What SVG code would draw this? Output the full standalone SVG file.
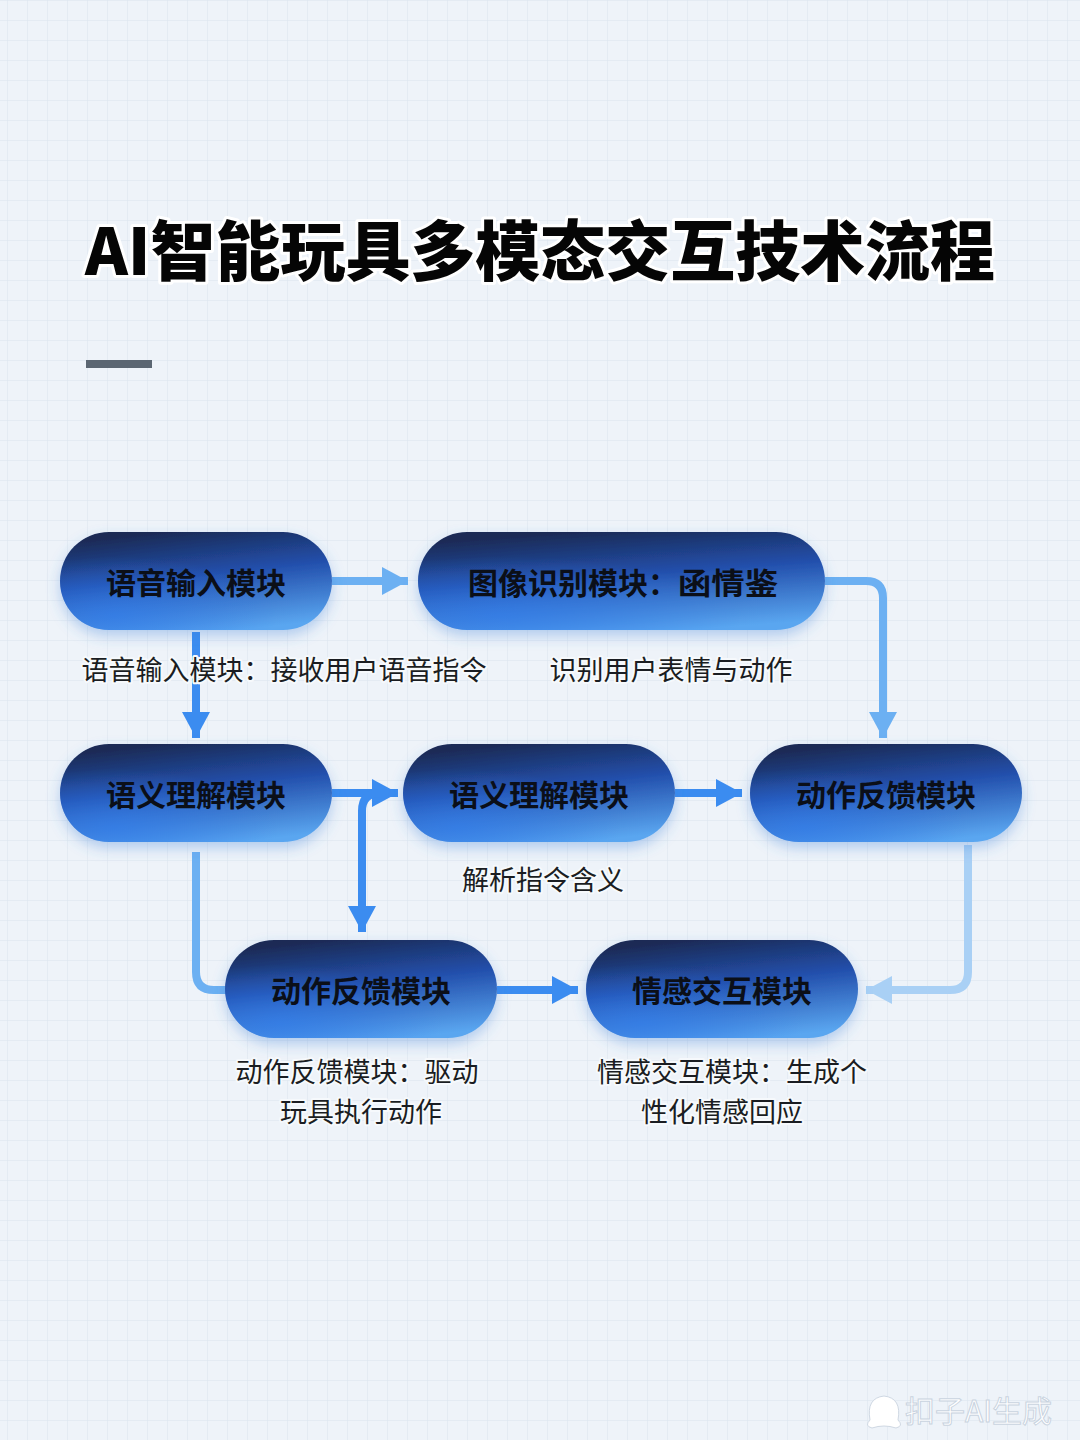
<svg xmlns="http://www.w3.org/2000/svg" width="1080" height="1440" viewBox="0 0 1080 1440">
<defs>
<style>
.node-text{font-family:"Noto Sans CJK SC","Noto Sans",sans-serif;font-weight:700;font-size:30px;fill:#0b0f18;text-anchor:middle;dominant-baseline:central}
.label{font-family:"Noto Sans CJK SC","Noto Sans",sans-serif;font-weight:400;font-size:27px;fill:#1a1d22;text-anchor:middle;paint-order:stroke;stroke:#f6f9fc;stroke-width:4px;stroke-linejoin:round}
.title{font-family:"Noto Sans CJK SC","Noto Sans",sans-serif;font-weight:900;font-size:65px;fill:#050505;paint-order:stroke;stroke:#ffffff;stroke-width:6px;stroke-linejoin:round}
.conn{fill:none;stroke-width:8;stroke-linecap:butt;stroke-linejoin:round}
.c-main{stroke:#3b8cf0}
.c-light{stroke:#6cb0f2}
.c-pale{stroke:#a9d0f5}
.grid{stroke:#d9e3ee;stroke-width:1}
</style>
<linearGradient id="pill" x1="0.35" y1="0" x2="0.65" y2="1">
<stop offset="0" stop-color="#1a2a55"/>
<stop offset="0.45" stop-color="#2350ad"/>
<stop offset="1" stop-color="#5aa6f0"/>
</linearGradient>
<radialGradient id="pillShade" cx="0.2" cy="0.85" r="0.6">
<stop offset="0" stop-color="#2f7df0" stop-opacity="0.6"/>
<stop offset="1" stop-color="#2f7df0" stop-opacity="0"/>
</radialGradient>
<filter id="shadow" x="-20%" y="-30%" width="140%" height="170%">
<feDropShadow dx="0" dy="6" stdDeviation="7" flood-color="#3a7fd8" flood-opacity="0.35"/>
</filter>
<marker id="ah-main" markerUnits="userSpaceOnUse" markerWidth="30" markerHeight="30" refX="26" refY="15" orient="auto"><path d="M0,1 L26,15 L0,29 Z" fill="#3b8cf0"/></marker>
<marker id="ah-light" markerUnits="userSpaceOnUse" markerWidth="30" markerHeight="30" refX="26" refY="15" orient="auto"><path d="M0,1 L26,15 L0,29 Z" fill="#6cb0f2"/></marker>
<marker id="ah-pale" markerUnits="userSpaceOnUse" markerWidth="30" markerHeight="30" refX="26" refY="15" orient="auto"><path d="M0,1 L26,15 L0,29 Z" fill="#a9d0f5"/></marker>
<pattern id="gridPat" x="7" y="0" width="20" height="20" patternUnits="userSpaceOnUse">
<path d="M0,0 H20 M0,0 V20" class="grid"/>
</pattern>
</defs>

<g id="background">
<rect width="1080" height="1440" fill="#eef3f9"/>
<rect width="1080" height="1440" fill="url(#gridPat)"/>
</g>

<g id="title">
<text class="title" x="85" y="275" textLength="910" lengthAdjust="spacing">AI智能玩具多模态交互技术流程</text>
<rect x="86" y="360" width="66" height="8" fill="#5b6672"/>
</g>

<g id="connectors">
<path class="conn c-light" d="M332,581 H408" marker-end="url(#ah-light)"/>
<path class="conn c-main" d="M196,632 V738" marker-end="url(#ah-main)"/>
<path class="conn c-light" d="M825,581 H866 Q883,581 883,598 V738" marker-end="url(#ah-light)"/>
<path class="conn c-main" d="M332,793 H398" marker-end="url(#ah-main)"/>
<path class="conn c-main" d="M380,793 Q362,793 362,811 V932" marker-end="url(#ah-main)"/>
<path class="conn c-main" d="M675,793 H742" marker-end="url(#ah-main)"/>
<path class="conn c-light" d="M196,852 V972 Q196,990 214,990 H230"/>
<path class="conn c-main" d="M497,990 H578" marker-end="url(#ah-main)"/>
<path class="conn c-pale" d="M968,845 V972 Q968,990 950,990 H866" marker-end="url(#ah-pale)"/>
</g>

<g id="node-voice-input">
<rect x="60" y="532" width="272" height="98" rx="49" fill="url(#pill)" filter="url(#shadow)"/>
<rect x="60" y="532" width="272" height="98" rx="49" fill="url(#pillShade)"/>
<text class="node-text" x="196" y="581">语音输入模块</text>
</g>

<g id="node-image-recognition">
<rect x="418" y="532" width="407" height="98" rx="49" fill="url(#pill)" filter="url(#shadow)"/>
<rect x="418" y="532" width="407" height="98" rx="49" fill="url(#pillShade)"/>
<text class="node-text" x="468" y="581" style="text-anchor:start">图像识别模块：<tspan textLength="100" lengthAdjust="spacingAndGlyphs">函情鉴</tspan></text>
</g>

<g id="node-semantic-1">
<rect x="60" y="744" width="272" height="98" rx="49" fill="url(#pill)" filter="url(#shadow)"/>
<rect x="60" y="744" width="272" height="98" rx="49" fill="url(#pillShade)"/>
<text class="node-text" x="196" y="793">语义理解模块</text>
</g>

<g id="node-semantic-2">
<rect x="403" y="744" width="272" height="98" rx="49" fill="url(#pill)" filter="url(#shadow)"/>
<rect x="403" y="744" width="272" height="98" rx="49" fill="url(#pillShade)"/>
<text class="node-text" x="539" y="793">语义理解模块</text>
</g>

<g id="node-action-feedback-1">
<rect x="750" y="744" width="272" height="98" rx="49" fill="url(#pill)" filter="url(#shadow)"/>
<rect x="750" y="744" width="272" height="98" rx="49" fill="url(#pillShade)"/>
<text class="node-text" x="886" y="793">动作反馈模块</text>
</g>

<g id="node-action-feedback-2">
<rect x="225" y="940" width="272" height="98" rx="49" fill="url(#pill)" filter="url(#shadow)"/>
<rect x="225" y="940" width="272" height="98" rx="49" fill="url(#pillShade)"/>
<text class="node-text" x="361" y="989">动作反馈模块</text>
</g>

<g id="node-emotion">
<rect x="586" y="940" width="272" height="98" rx="49" fill="url(#pill)" filter="url(#shadow)"/>
<rect x="586" y="940" width="272" height="98" rx="49" fill="url(#pillShade)"/>
<text class="node-text" x="722" y="989">情感交互模块</text>
</g>

<g id="labels">
<text class="label" x="284" y="680">语音输入模块：接收用户语音指令</text>
<text class="label" x="671" y="680">识别用户表情与动作</text>
<text class="label" x="543" y="890">解析指令含义</text>
<text class="label" x="357" y="1082">动作反馈模块：驱动</text>
<text class="label" x="361" y="1122">玩具执行动作</text>
<text class="label" x="732" y="1082">情感交互模块：生成个</text>
<text class="label" x="722" y="1122">性化情感回应</text>
</g>

<g id="watermark">
<path d="M870,1420 q-4,-22 14,-24 q18,2 14,24 q6,6 -2,8 q-12,-4 -24,0 q-8,-2 -2,-8 Z" fill="#ffffff" stroke="#cfd8e3" stroke-width="1"/>
<text x="905" y="1422" style="font-family:'Noto Sans CJK SC',sans-serif;font-size:30px;fill:#ffffff;stroke:#c9d3df;stroke-width:1">扣子AI生成</text>
</g>
</svg>
